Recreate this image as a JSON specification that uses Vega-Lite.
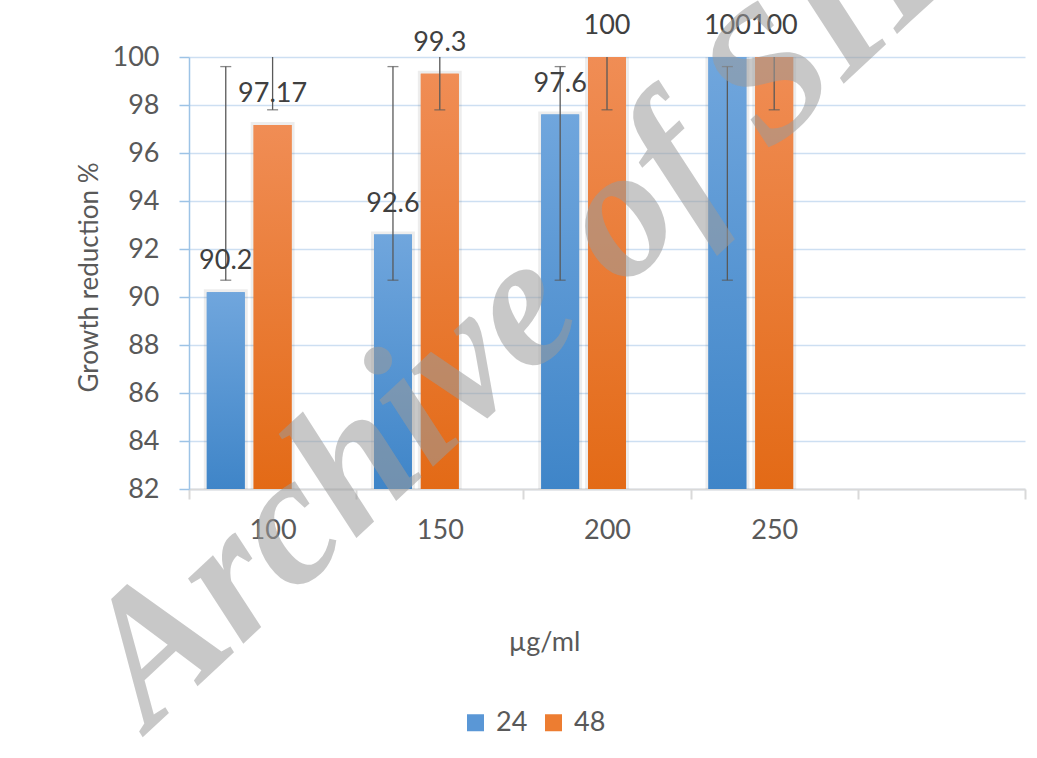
{
  "$schema": "https://vega.github.io/schema/vega-lite/v6.json",
  "width": 836,
  "height": 432,
  "autosize": {"type": "none"},
  "padding": {"left": 189, "top": 57, "right": 12, "bottom": 269},
  "background": "white",
  "config": {
    "view": {"stroke": null},
    "font": "Lato",
    "axis": {"labelFont": "Lato", "titleFont": "Lato", "labelColor": "#595959", "titleColor": "#595959", "labelFontSize": 27, "titleFontSize": 27, "titleFontWeight": "normal"},
    "legend": {"labelFont": "Lato"}
  },
  "datasets": {
    "main": [
      {"conc": "100", "series": "24", "value": 90.2, "lo": 90.7, "hi": 99.6},
      {"conc": "100", "series": "48", "value": 97.17, "lo": 97.8, "hi": 102},
      {"conc": "150", "series": "24", "value": 92.6, "lo": 90.7, "hi": 99.6},
      {"conc": "150", "series": "48", "value": 99.3, "lo": 97.8, "hi": 102},
      {"conc": "200", "series": "24", "value": 97.6, "lo": 90.7, "hi": 99.6},
      {"conc": "200", "series": "48", "value": 100, "lo": 97.8, "hi": 102},
      {"conc": "250", "series": "24", "value": 100, "lo": 90.7, "hi": 99.6},
      {"conc": "250", "series": "48", "value": 100, "lo": 97.8, "hi": 102}
    ],
    "mark": [{"w": "Archive of SID"}]
  },
  "layer": [
    {
      "data": {"name": "main"},
      "mark": {"type": "bar", "fill": "transparent", "stroke": "#000000", "strokeOpacity": 0.07, "strokeWidth": 6, "clip": true},
      "encoding": {
        "x": {
          "field": "conc", "type": "nominal", "sort": null,
          "scale": {"domain": ["100", "150", "200", "250", " "], "paddingInner": 0, "paddingOuter": 0},
          "axis": {
            "title": "µg/ml", "labelAngle": 0, "domainColor": "#d9d9d9", "domainWidth": 2,
            "tickColor": "#d9d9d9", "tickWidth": 2, "tickSize": 10, "tickBand": "extent",
            "labelPadding": 18, "titleX": 355, "titleY": 161, "titleBaseline": "alphabetic", "titleAlign": "center"
          }
        },
        "xOffset": {"field": "series", "type": "nominal", "scale": {"domain": ["24", "48", "x"], "paddingInner": 0.19, "paddingOuter": 0.38}},
        "y": {
          "field": "value", "type": "quantitative",
          "scale": {"domain": [82, 100], "zero": false, "nice": false},
          "axis": {
            "title": "Growth reduction %", "values": [82, 84, 86, 88, 90, 92, 94, 96, 98, 100],
            "domainColor": "#9dc3e6", "domainWidth": 1.5, "tickColor": "#9dc3e6", "tickWidth": 1.5, "tickSize": 10,
            "gridColor": "#cddff2", "gridWidth": 1.5, "labelPadding": 20, "titleFontSize": 26,
            "titleX": -92, "titleY": 220, "titleAngle": -90, "titleBaseline": "alphabetic", "titleAlign": "center"
          }
        },
        "y2": {"datum": 82}
      }
    },
    {
      "data": {"name": "main"},
      "mark": {"type": "bar", "clip": true},
      "encoding": {
        "x": {"field": "conc", "type": "nominal", "sort": null},
        "xOffset": {"field": "series", "type": "nominal"},
        "y": {"field": "value", "type": "quantitative"},
        "y2": {"datum": 82},
        "color": {
          "field": "series", "type": "nominal",
          "scale": {"domain": ["24", "48"], "range": ["#5a97d6", "#ed7d31"]},
          "legend": {
            "orient": "none", "legendX": 273, "legendY": 652, "direction": "horizontal", "title": null,
            "symbolType": "square", "symbolSize": 289, "symbolStrokeWidth": 0, "symbolOpacity": 1,
            "labelFontSize": 27, "labelColor": "#595959", "columnPadding": 12, "labelOffset": 7
          }
        }
      }
    },
    {
      "data": {"name": "main"},
      "mark": {"type": "bar", "clip": true},
      "encoding": {
        "x": {"field": "conc", "type": "nominal", "sort": null},
        "xOffset": {"field": "series", "type": "nominal"},
        "y": {"field": "value", "type": "quantitative"},
        "y2": {"datum": 82},
        "color": {
          "condition": {
            "test": "datum.series === '24'",
            "value": {"gradient": "linear", "x1": 0, "y1": 0, "x2": 0, "y2": 1, "stops": [{"offset": 0, "color": "#70a6dd"}, {"offset": 1, "color": "#3f85c8"}]}
          },
          "value": {"gradient": "linear", "x1": 0, "y1": 0, "x2": 0, "y2": 1, "stops": [{"offset": 0, "color": "#f08d55"}, {"offset": 1, "color": "#e36a16"}]}
        }
      }
    },
    {
      "data": {"name": "main"},
      "mark": {"type": "rule", "color": "#595959", "strokeWidth": 1.3, "clip": true},
      "encoding": {
        "x": {"field": "conc", "type": "nominal", "sort": null},
        "xOffset": {"field": "series", "type": "nominal"},
        "y": {"field": "lo", "type": "quantitative"},
        "y2": {"field": "hi"}
      }
    },
    {
      "data": {"name": "main"},
      "mark": {"type": "tick", "color": "#595959", "size": 11, "thickness": 1.3, "orient": "horizontal", "clip": true},
      "encoding": {
        "x": {"field": "conc", "type": "nominal", "sort": null},
        "xOffset": {"field": "series", "type": "nominal"},
        "y": {"field": "lo", "type": "quantitative"}
      }
    },
    {
      "data": {"name": "main"},
      "mark": {"type": "tick", "color": "#595959", "size": 11, "thickness": 1.3, "orient": "horizontal", "clip": true},
      "encoding": {
        "x": {"field": "conc", "type": "nominal", "sort": null},
        "xOffset": {"field": "series", "type": "nominal"},
        "y": {"field": "hi", "type": "quantitative"}
      }
    },
    {
      "data": {"name": "main"},
      "mark": {"type": "text", "baseline": "bottom", "dy": -17, "fontSize": 27, "color": "#404040", "font": "Lato"},
      "encoding": {
        "x": {"field": "conc", "type": "nominal", "sort": null},
        "xOffset": {"field": "series", "type": "nominal"},
        "y": {"field": "value", "type": "quantitative"},
        "text": {"field": "value", "type": "quantitative", "format": "~g"}
      }
    },
    {
      "data": {"name": "mark"},
      "mark": {
        "type": "text", "font": "Liberation Serif", "fontWeight": "bold", "fontStyle": "italic",
        "fontSize": 186, "angle": -43, "align": "left", "baseline": "alphabetic",
        "dx": -168, "fill": "#9a9a9a", "fillOpacity": 0.55
      },
      "encoding": {
        "x": {"datum": "100"},
        "y": {"datum": 76.7},
        "text": {"field": "w"}
      }
    }
  ]
}
